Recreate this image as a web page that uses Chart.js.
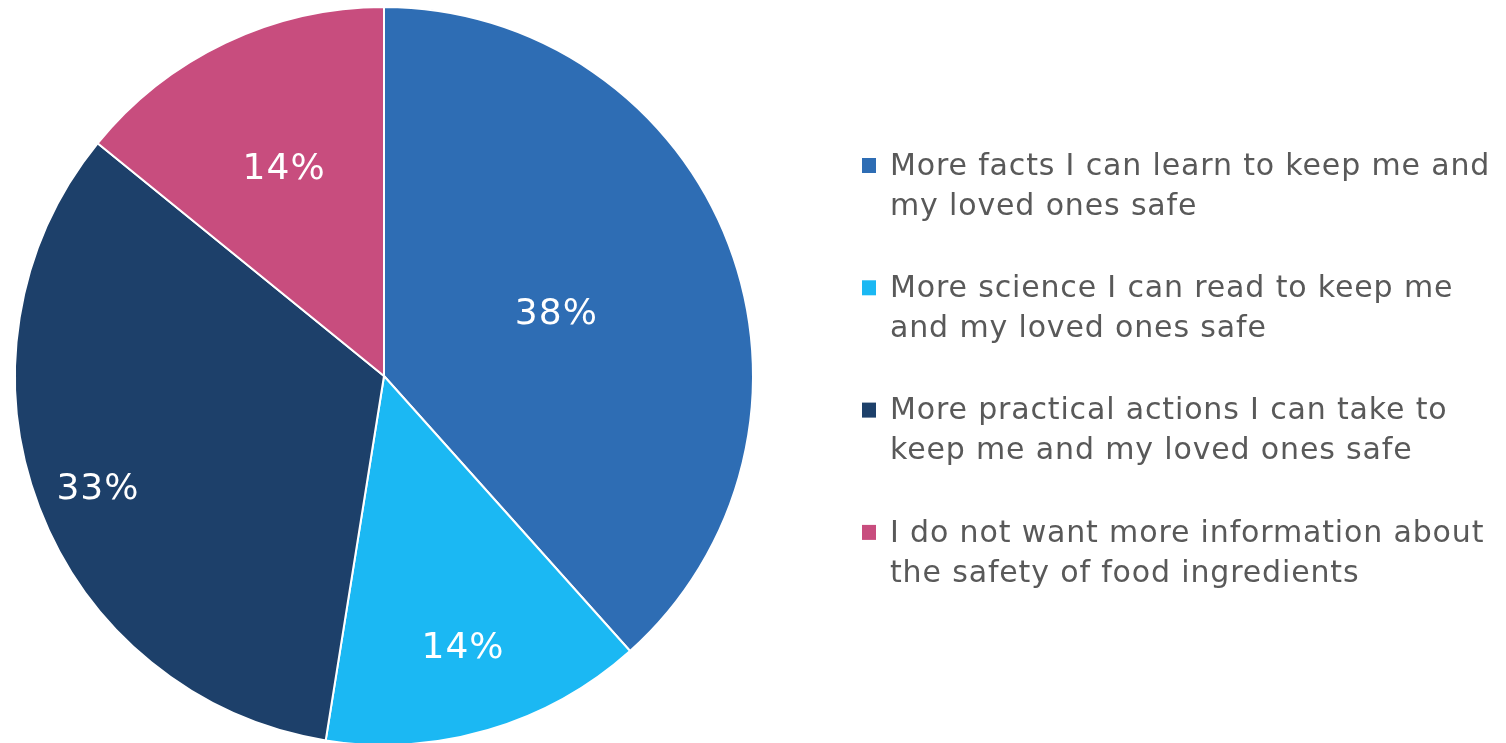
<!DOCTYPE html>
<html><head><meta charset="utf-8">
<script src="https://cdn.jsdelivr.net/npm/chart.js@4"></script>
<style>html,body{margin:0;padding:0;background:#fff;overflow:hidden;}#wrap{width:1506px;height:743px;position:relative;overflow:hidden;}</style>
</head><body><div id="wrap"><canvas id="c" width="1506" height="746"></canvas></div>
<script>
const categories = [
  ["More facts I can learn to keep me and", "my loved ones safe"],
  ["More science I can read to keep me", "and my loved ones safe"],
  ["More practical actions I can take to", "keep me and my loved ones safe"],
  ["I do not want more information about", "the safety of food ingredients"]
];
const values = [38, 14, 33, 14];
const valueLabels = ["38%", "14%", "33%", "14%"];
const colors = ["#2E6DB4", "#1BB8F3", "#1D406A", "#C84D7E"];
// radial position of each value label as a fraction of the radius (style only)
const labelRadius = [0.50, 0.76, 0.83, 0.63];
const FONT = '"DejaVu Sans", sans-serif';

const labelPlugin = {
  id: 'labels',
  afterDatasetsDraw(chart) {
    const ctx = chart.ctx;
    const meta = chart.getDatasetMeta(0);
    ctx.save();
    ctx.fillStyle = '#ffffff';
    ctx.font = '36px ' + FONT;
    if ('letterSpacing' in ctx) ctx.letterSpacing = '1px';
    ctx.textAlign = 'center';
    ctx.textBaseline = 'middle';
    meta.data.forEach((arc, i) => {
      const mid = (arc.startAngle + arc.endAngle) / 2;
      const r = arc.outerRadius * labelRadius[i];
      ctx.fillText(valueLabels[i], arc.x + Math.cos(mid) * r, arc.y + Math.sin(mid) * r + 4);
    });
    ctx.restore();
  },
  afterDraw(chart) {
    const ctx = chart.ctx;
    ctx.save();
    const x0 = 862, tx = 890, y0 = 167, lineH = 40, itemH = 122.3;
    ctx.font = '30px ' + FONT;
    if ('letterSpacing' in ctx) ctx.letterSpacing = '0.85px';
    ctx.textBaseline = 'middle';
    ctx.textAlign = 'left';
    categories.forEach((lines, i) => {
      const y = y0 + i * itemH;
      ctx.fillStyle = colors[i];
      ctx.fillRect(x0, y - 9, 14, 15);
      ctx.fillStyle = '#595959';
      lines.forEach((t, j) => ctx.fillText(t, tx, y + j * lineH));
    });
    ctx.restore();
  }
};

new Chart(document.getElementById('c'), {
  type: 'pie',
  data: {
    labels: categories.map(l => l.join(' ')),
    datasets: [{ data: values, backgroundColor: colors, borderColor: '#ffffff', borderWidth: 2 }]
  },
  options: {
    responsive: false,
    animation: false,
    layout: { padding: { left: 14, right: 752, top: 6, bottom: 0 } },
    plugins: { legend: { display: false }, tooltip: { enabled: false } }
  },
  plugins: [labelPlugin]
});
</script></body></html>
